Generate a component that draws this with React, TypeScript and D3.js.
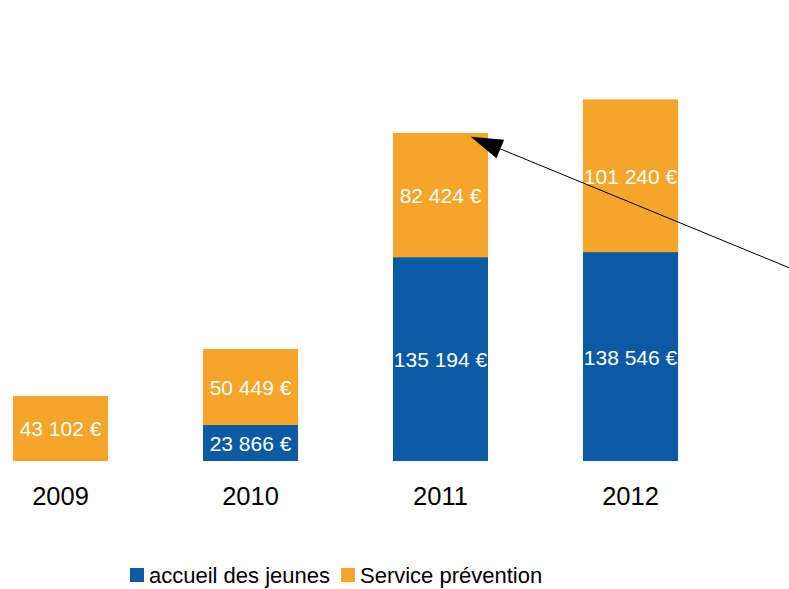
import React from "react";
import * as d3 from "d3";

const categories = ["2009", "2010", "2011", "2012"];
const accueil = [0, 23866, 135194, 138546];
const prevention = [43102, 50449, 82424, 101240];
const seriesNames = ["accueil des jeunes", "Service prévention"];
const colors = ["#0b5ba4", "#f5a52a"];

const W = 789;
const H = 589;
const FONT = "'Liberation Sans', Arial, sans-serif";

const fmt = (v: number) => d3.format(",")(v).replace(/,/g, " ") + " €";

export default function App() {
  const x = d3.scaleBand<string>().domain(categories).range([-34.5, 725.5]).paddingInner(0.5).paddingOuter(0.25);
  const y = d3.scaleLinear().domain([0, 250000]).range([461, 84]);

  const rows = categories.map((c, i) => ({ cat: c, a: accueil[i], p: prevention[i] }));
  const stack = d3.stack<any>().keys(["a", "p"])(rows as any);

  // arrow
  const tip = [470.7, 136.7];
  const from = [789, 267.7];
  const ang = Math.atan2(tip[1] - from[1], tip[0] - from[0]);
  const headLen = 32;
  const headHalf = 10;
  const bx = tip[0] - headLen * Math.cos(ang);
  const by = tip[1] - headLen * Math.sin(ang);
  const px = -Math.sin(ang), py = Math.cos(ang);
  const head = [
    [tip[0], tip[1]],
    [bx + headHalf * px, by + headHalf * py],
    [bx - headHalf * px, by - headHalf * py],
  ];
  const ext = 40;
  const startX = from[0] + ext * Math.cos(ang + Math.PI);
  const startY = from[1] + ext * Math.sin(ang + Math.PI);

  return (
    <svg width={W} height={H} style={{ position: "absolute", left: 0, top: 0, background: "#fff" }} fontFamily={FONT}>
      {stack.map((layer, si) => (
        <g key={si}>
          {layer.map((d: any, i: number) => {
            const v = d[1] - d[0];
            if (v <= 0) return null;
            const x0 = x(categories[i])!;
            const yt = y(d[1]);
            const yb = y(d[0]);
            return (
              <g key={i}>
                <rect x={x0} y={yt} width={x.bandwidth()} height={yb - yt} fill={colors[si]} />
                <text x={x0 + x.bandwidth() / 2} y={(yt + yb) / 2} dy="0.38em" textAnchor="middle" fill="#fff" fontSize={21}>
                  {fmt(v)}
                </text>
              </g>
            );
          })}
        </g>
      ))}
      {categories.map((c) => (
        <text key={c} x={x(c)! + x.bandwidth() / 2} y={505} textAnchor="middle" fontSize={25.5} fill="#000">
          {c}
        </text>
      ))}
      <line x1={startX} y1={startY} x2={bx} y2={by} stroke="#000" strokeWidth={1} />
      <polygon points={head.map((p) => p.join(",")).join(" ")} fill="#000" />
      <g>
        <rect x={130} y={568} width={14} height={14} fill={colors[0]} />
        <text x={149} y={583} fontSize={22} fill="#000">{seriesNames[0]}</text>
        <rect x={341} y={568} width={14} height={14} fill={colors[1]} />
        <text x={360} y={583} fontSize={22} fill="#000">{seriesNames[1]}</text>
      </g>
    </svg>
  );
}
